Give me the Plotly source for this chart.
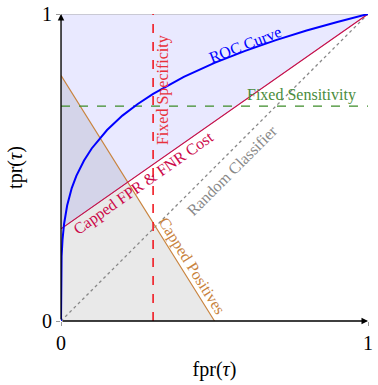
import plotly.graph_objects as go

# ---- data ----
roc_fpr = [0, 0.0005, 0.002, 0.005, 0.01, 0.02, 0.035, 0.05, 0.075, 0.1, 0.15,
           0.2, 0.25, 0.3, 0.4, 0.5, 0.6, 0.7, 0.8, 0.9, 1.0]
roc_tpr = [0, 0.150, 0.211, 0.266, 0.316, 0.376, 0.433, 0.473, 0.523, 0.562, 0.622,
           0.669, 0.707, 0.740, 0.795, 0.841, 0.880, 0.915, 0.946, 0.974, 1.0]

fixed_fpr = 0.3          # Fixed Specificity
fixed_tpr = 0.7          # Fixed Sensitivity
cost_fpr = [0, 1]        # Capped FPR & FNR Cost line
cost_tpr = [0.3, 1]
pos_fpr = [0, 0.5]       # Capped Positives line
pos_tpr = [0.8, 0]
rand_fpr = [0, 1]
rand_tpr = [0, 1]

tick_vals = [0, 1]
tick_text = ["0", "1"]

FONT = "Liberation Serif"

fig = go.Figure()

# shaded regions
fig.add_trace(go.Scatter(x=[cost_fpr[0], cost_fpr[1], 0, cost_fpr[0]],
                         y=[cost_tpr[0], cost_tpr[1], 1, cost_tpr[0]],
                         fill="toself", fillcolor="rgba(0,0,255,0.085)",
                         line=dict(color="#aaaaaa", width=1), mode="lines",
                         hoverinfo="skip", cliponaxis=False))
fig.add_trace(go.Scatter(x=[0, pos_fpr[0], pos_fpr[1], 0],
                         y=[0, pos_tpr[0], pos_tpr[1], 0],
                         fill="toself", fillcolor="rgba(0,0,0,0.085)",
                         line=dict(width=0), mode="lines", hoverinfo="skip"))

# lines
fig.add_trace(go.Scatter(x=rand_fpr, y=rand_tpr, mode="lines",
                         line=dict(color="#888888", width=1.3, dash="dot")))
fig.add_trace(go.Scatter(x=pos_fpr, y=pos_tpr, mode="lines",
                         line=dict(color="#c8823c", width=1.1)))
fig.add_trace(go.Scatter(x=cost_fpr, y=cost_tpr, mode="lines",
                         line=dict(color="#cc0a4a", width=1.1), cliponaxis=False))
fig.add_trace(go.Scatter(x=[fixed_fpr, fixed_fpr], y=[0, 1], mode="lines",
                         line=dict(color="#f01a22", width=1.6, dash="dash")))
fig.add_trace(go.Scatter(x=[0, 1], y=[fixed_tpr, fixed_tpr], mode="lines",
                         line=dict(color="#3c8c28", width=1.4, dash="dash")))
fig.add_trace(go.Scatter(x=roc_fpr, y=roc_tpr, mode="lines",
                         line=dict(color="#0000ff", width=2), cliponaxis=False))

# text labels
def label(text, x, y, angle, color):
    fig.add_annotation(x=x, y=y, xref="x", yref="y", text=text, showarrow=False,
                       textangle=angle, font=dict(family=FONT, size=16, color=color))

label("ROC Curve", 0.60, 0.902, -21, "#0000ff")
label("Fixed Specificity", 0.332, 0.752, -90, "#e8303a")
label("Fixed Sensitivity", 0.782, 0.735, 0, "#4a8c3c")
label("Capped FPR &amp; FNR Cost", 0.27, 0.450, -35, "#cc0a4a")
label("Random Classifier", 0.557, 0.490, -45, "#888888")
label("Capped Positives", 0.425, 0.178, 58, "#c8823c")

# axis arrows
fig.add_annotation(x=1, y=0, ax=0, ay=0, xref="x", yref="y", axref="x", ayref="y",
                   showarrow=True, arrowhead=2, arrowsize=1, arrowwidth=1.3,
                   arrowcolor="black", text="")
fig.add_annotation(x=0, y=1, ax=0, ay=0, xref="x", yref="y", axref="x", ayref="y",
                   showarrow=True, arrowhead=2, arrowsize=1, arrowwidth=1.3,
                   arrowcolor="black", text="")

axis_common = dict(range=[0, 1], showgrid=False, zeroline=False, showline=False,
                   automargin=False,
                   tickvals=tick_vals, ticktext=tick_text, ticks="outside",
                   ticklen=4, tickcolor="#999999", tickwidth=1,
                   tickfont=dict(family=FONT, size=20, color="black"))

fig.update_layout(
    width=378, height=385,
    margin=dict(l=61, r=10, t=14, b=64),
    paper_bgcolor="white", plot_bgcolor="white",
    showlegend=False,
    xaxis=dict(**axis_common, title=dict(text="fpr(<i>τ</i>)", standoff=8,
                                         font=dict(family=FONT, size=20, color="black"))),
    yaxis=dict(**axis_common,
               title=dict(text="tpr(<i>τ</i>)", standoff=14,
                          font=dict(family=FONT, size=20, color="black"))),
)

fig.write_html("out.html")
